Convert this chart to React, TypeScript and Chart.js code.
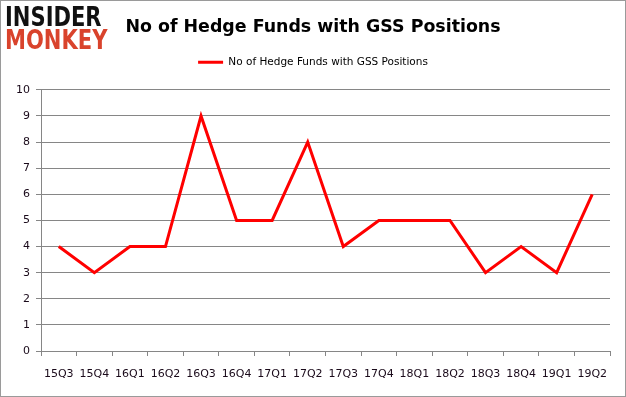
import React, { useEffect, useRef } from "react";
import { Chart, registerables, layouts } from "chart.js";

Chart.register(...registerables);

const categories = ["15Q3", "15Q4", "16Q1", "16Q2", "16Q3", "16Q4", "17Q1", "17Q2", "17Q3", "17Q4", "18Q1", "18Q2", "18Q3", "18Q4", "19Q1", "19Q2"];
const hedgeFunds = [4, 3, 4, 4, 9, 5, 5, 8, 4, 5, 5, 5, 3, 4, 3, 6];
const yMin = 0;
const yMax = 10;
const yStep = 1;
const seriesName = "No of Hedge Funds with GSS Positions";
const titleText = "No of Hedge Funds with GSS Positions";

function makeSpacer(position: string, size: number) {
  const horizontal = position === "top" || position === "bottom";
  return {
    position,
    weight: 500,
    fullSize: horizontal,
    options: {},
    top: 0,
    left: 0,
    right: 0,
    bottom: 0,
    width: 0,
    height: 0,
    isHorizontal() {
      return horizontal;
    },
    update(maxWidth: number, maxHeight: number) {
      if (horizontal) {
        this.width = maxWidth;
        this.height = size;
      } else {
        this.width = size;
        this.height = maxHeight;
      }
    },
    draw() {},
  };
}

const spacers = {
  id: "spacers",
  beforeInit(chart: any) {
    layouts.addBox(chart, makeSpacer("top", 12.5) as any);
    layouts.addBox(chart, makeSpacer("right", 15) as any);
  },
};

export default function App() {
  const ref = useRef<HTMLCanvasElement | null>(null);

  useEffect(() => {
    if (!ref.current) return;
    const chart = new Chart(ref.current, {
      type: "line",
      data: {
        labels: categories,
        datasets: [
          {
            label: seriesName,
            data: hedgeFunds,
            borderColor: "#ff0000",
            backgroundColor: "#ff0000",
            borderWidth: 3,
            pointRadius: 0,
            tension: 0,
            fill: false,
          },
        ],
      },
      plugins: [spacers],
      options: {
        responsive: false,
        animation: false,
        layout: { padding: { left: 0, right: 0, top: 0, bottom: 0 } },
        plugins: {
          title: {
            display: true,
            text: titleText,
            color: "#000",
            font: { family: "DejaVu Sans", size: 17.4, weight: "bold" },
            padding: { top: 16, bottom: 8 },
          },
          legend: {
            display: true,
            position: "top",
            labels: {
              usePointStyle: true,
              pointStyle: "line",
              pointStyleWidth: 25,
              padding: 11,
              color: "#000",
              font: { family: "DejaVu Sans", size: 10.5 },
            },
          },
          tooltip: { enabled: false },
        },
        scales: {
          x: {
            type: "category",
            offset: true,
            afterFit: (s: any) => {
              s.height = 45;
            },
            grid: {
              offset: true,
              drawOnChartArea: false,
              drawTicks: true,
              tickLength: 5,
              color: "#868686",
            },
            border: { display: true, color: "#868686" },
            ticks: {
              color: "#1a0a1a",
              padding: 12,
              maxRotation: 0,
              autoSkip: false,
              font: { family: "DejaVu Sans", size: 11 },
            },
          },
          y: {
            min: yMin,
            max: yMax,
            afterFit: (s: any) => {
              s.width = 40;
            },
            grid: {
              color: "#868686",
              tickLength: 5,
            },
            border: { display: true, color: "#868686" },
            ticks: {
              stepSize: yStep,
              color: "#1a0a1a",
              padding: 6,
              font: { family: "DejaVu Sans", size: 11 },
            },
          },
        },
      },
    });
    return () => chart.destroy();
  }, []);

  return (
    <div
      style={{
        position: "fixed",
        left: 0,
        top: 0,
        width: 626,
        height: 397,
        boxSizing: "border-box",
        border: "1px solid #9a9a9a",
        background: "#fff",
      }}
    >
      <canvas ref={ref} width={624} height={395} style={{ display: "block" }} />
      <div
        style={{
          position: "absolute",
          left: 4,
          top: 4,
          fontFamily: "DejaVu Sans",
          fontWeight: 900,
          lineHeight: "23px",
          fontSize: 27,
          letterSpacing: 0,
          transform: "scaleX(0.78)",
          transformOrigin: "0 0",
        }}
      >
        <div style={{ color: "#111" }}>INSIDER</div>
        <div style={{ color: "#d9432c" }}>MONKEY</div>
      </div>
    </div>
  );
}
